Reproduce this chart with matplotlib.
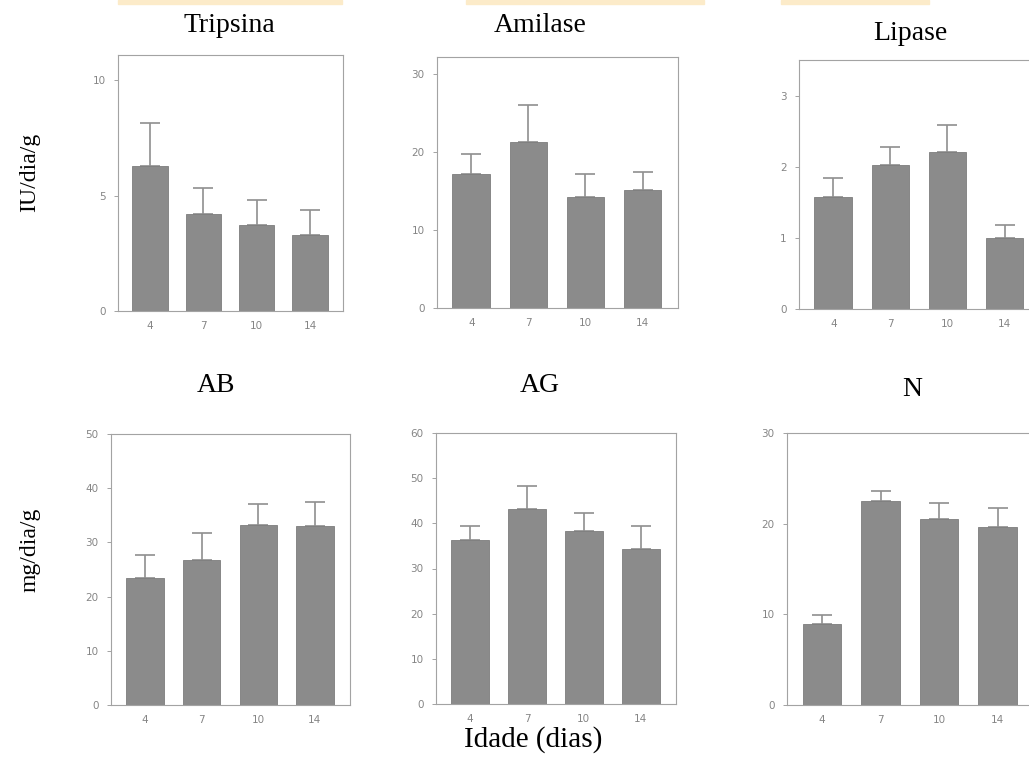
import numpy as np
import matplotlib
matplotlib.use("Agg")
import matplotlib.pyplot as plt
from matplotlib.patches import Rectangle

W, H = 1029, 775  # figure size in pixels

days = ['4', '7', '10', '14']

# enzyme activity (IU/dia/g), mean and upper error
tripsina = [6.3, 4.2, 3.75, 3.3]
tripsina_err = [1.85, 1.15, 1.05, 1.1]
amilase = [17.2, 21.3, 14.2, 15.2]
amilase_err = [2.6, 4.8, 3.0, 2.2]
lipase = [1.58, 2.03, 2.21, 1.0]
lipase_err = [0.26, 0.25, 0.37, 0.18]

# intake (mg/dia/g)
ab = [23.5, 26.7, 33.2, 33.1]
ab_err = [4.1, 5.1, 3.8, 4.3]
ag = [36.3, 43.2, 38.2, 34.3]
ag_err = [3.0, 5.0, 4.0, 5.0]
n = [8.9, 22.5, 20.5, 19.6]
n_err = [1.0, 1.1, 1.8, 2.1]

bar_col = '#8b8b8b'
line_col = '#a3a3a3'
tick_col = '#858585'

fig = plt.figure(figsize=(W / 100, H / 100), dpi=100)
fig.patch.set_facecolor('white')


def px_axes(l, t, r, b):
    return fig.add_axes([l / W, 1 - b / H, (r - l) / W, (b - t) / H])


def panel(rect, vals, errs, ymax, yticks):
    ax = px_axes(*rect)
    x = np.arange(len(days))
    ax.bar(x, vals, width=0.66, color=bar_col, edgecolor='#7d7d7d', linewidth=0.6, zorder=2)
    ax.errorbar(x, vals, yerr=[np.zeros(len(vals)), errs], fmt='none',
                ecolor='#8f8f8f', elinewidth=1.2, capsize=7, capthick=1.2, zorder=1)
    ax.set_xlim(-0.6, 3.62)
    ax.set_ylim(0, ymax)
    ax.set_xticks(x)
    ax.set_xticklabels(days)
    ax.set_yticks(yticks)
    for s in ax.spines.values():
        s.set_color(line_col)
        s.set_linewidth(0.8)
    ax.tick_params(axis='y', direction='out', length=3, width=0.7, color=line_col,
                   labelcolor=tick_col, labelsize=7.5, pad=6)
    ax.tick_params(axis='x', length=0, labelcolor=tick_col, labelsize=7.5, pad=7)
    return ax


panel((118, 55, 343, 311), tripsina, tripsina_err, 11.1, [0, 5, 10])
panel((437, 57, 678, 308), amilase, amilase_err, 32.2, [0, 10, 20, 30])
panel((799, 60, 1040, 309), lipase, lipase_err, 3.5, [0, 1, 2, 3])
panel((111, 434, 350, 705), ab, ab_err, 50, [0, 10, 20, 30, 40, 50])
panel((436, 433, 676, 704), ag, ag_err, 60, [0, 10, 20, 30, 40, 50, 60])
panel((787, 433, 1034, 705), n, n_err, 30, [0, 10, 20, 30])

serif = 'Liberation Serif'


def ftext(x, y, s, size, **kw):
    fig.text(x / W, 1 - y / H, s, fontsize=size, family=serif, ha='center', va='center', **kw)


ftext(229, 26, 'Tripsina', 20)
ftext(540, 26, 'Amilase', 20)
ftext(910, 34, 'Lipase', 20)
ftext(216, 386, 'AB', 20)
ftext(540, 386, 'AG', 20)
ftext(912, 389, 'N', 20)
ftext(30, 172, 'IU/dia/g', 17, rotation=90)
ftext(30, 550, 'mg/dia/g', 17, rotation=90)
ftext(533, 740, 'Idade (dias)', 21)

# pale highlight strips along the top edge
for x0, x1 in [(118, 342), (466, 704), (781, 929)]:
    fig.patches.append(Rectangle((x0 / W, 1 - 4 / H), (x1 - x0) / W, 4 / H,
                                 transform=fig.transFigure, color='#fcebc9', zorder=0))

fig.savefig('out.png', dpi=100)
